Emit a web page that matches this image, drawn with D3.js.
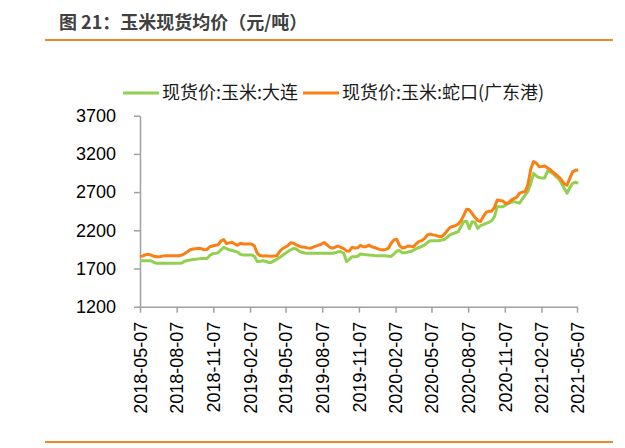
<!DOCTYPE html>
<html>
<head>
<meta charset="utf-8">
<script src="https://cdn.jsdelivr.net/npm/d3@7"></script>
<style>
  body { margin: 0; background: #fff; }
  svg { display: block; font-family: "Liberation Sans", Arial, sans-serif; }
</style>
</head>
<body>
<svg></svg>
<script>
let width = 625
let height = 448

// weekly series, starting 2018-05-07
let startDate = '2018-05-07'

let dalian = [
  1802, 1802, 1802, 1802, 1800, 1780, 1768, 1768, 1768, 1768,
  1768, 1768, 1768, 1768, 1768, 1772, 1795, 1805, 1812, 1818,
  1822, 1826, 1832, 1830, 1830, 1870, 1892, 1898, 1907, 1945,
  1977, 1960, 1945, 1935, 1925, 1915, 1885, 1877, 1877, 1877,
  1877, 1860, 1790, 1795, 1802, 1795, 1780, 1778, 1800, 1820,
  1845, 1870, 1895, 1922, 1945, 1962, 1955, 1928, 1912, 1902,
  1899, 1899, 1899, 1899, 1899, 1899, 1900, 1900, 1900, 1900,
  1905, 1920, 1920, 1900, 1792, 1820, 1855, 1855, 1860, 1890,
  1885, 1880, 1877, 1875, 1870, 1866, 1866, 1866, 1866, 1860,
  1858, 1890, 1930, 1935, 1905, 1905, 1915, 1922, 1940, 1962,
  1975, 1990, 2010, 2040, 2064, 2064, 2064, 2064, 2072, 2080,
  2105, 2140, 2155, 2168, 2182, 2250, 2313, 2318, 2220, 2313,
  2305, 2225, 2260, 2275, 2290, 2305, 2325, 2380, 2509, 2509,
  2509, 2530, 2553, 2565, 2575, 2565, 2555, 2610, 2662, 2710,
  2810, 2946, 2910, 2890, 2883, 2885, 2975, 2965, 2940, 2905,
  2875, 2820, 2750, 2685, 2760, 2815, 2830, 2815
]

let shekou = [
  1855, 1865, 1880, 1886, 1875, 1860, 1855, 1855, 1862, 1868,
  1868, 1868, 1868, 1868, 1868, 1875, 1895, 1920, 1945, 1955,
  1960, 1964, 1960, 1945, 1950, 1985, 1995, 2005, 2010, 2060,
  2080, 2025, 2035, 2043, 2020, 2004, 2030, 2021, 2021, 2021,
  2021, 1995, 1900, 1870, 1864, 1866, 1862, 1860, 1864, 1866,
  1920, 1958, 1978, 2000, 2038, 2030, 2010, 1993, 1980, 1977,
  1970, 1964, 1980, 1993, 2005, 2020, 2040, 2010, 1980, 1966,
  1980, 1995, 1975, 1960, 1930, 1930, 1977, 1968, 1970, 2004,
  1985, 1985, 2008, 1985, 1975, 1960, 1950, 1942, 1950, 1964,
  2030, 2075, 2082, 2000, 1968, 1975, 1995, 1990, 1986, 2025,
  2055, 2065, 2095, 2140, 2150, 2140, 2135, 2120, 2120, 2145,
  2190, 2235, 2250, 2262, 2280, 2325, 2395, 2475, 2468, 2420,
  2370, 2330, 2315, 2380, 2435, 2450, 2450, 2500, 2597, 2590,
  2585, 2550, 2560, 2595, 2615, 2635, 2685, 2700, 2706, 2800,
  3000, 3100, 3080, 3033, 3035, 3041, 3015, 2995, 2960, 2930,
  2900, 2860, 2810, 2790, 2880, 2965, 2985, 2989
]

let xTickLabels = [
  '2018-05-07', '2018-08-07', '2018-11-07', '2019-02-07', '2019-05-07',
  '2019-08-07', '2019-11-07', '2020-02-07', '2020-05-07', '2020-08-07',
  '2020-11-07', '2021-02-07', '2021-05-07'
]

let yTicks = [1200, 1700, 2200, 2700, 3200, 3700]

let seriesNames = ['现货价:玉米:大连', '现货价:玉米:蛇口(广东港)']
let seriesColors = ['#92d050', '#fa7f14']

let parseDate = d3.timeParse('%Y-%m-%d')
let start = parseDate(startDate)
let dates = dalian.map((d, i) => d3.timeDay.offset(start, i * 7))

let xScale = d3.scaleTime()
                .domain([parseDate(xTickLabels[0]), parseDate(xTickLabels[xTickLabels.length - 1])])
                .range([140, 577])

let yScale = d3.scaleLinear()
                .domain([1200, 3700])
                .range([306.7, 115.7])

let svg = d3.select('svg')
    .attr('width', width)
    .attr('height', height)

// title and rules
svg.append('text')
    .attr('x', 59)
    .attr('y', 29)
    .style('font-family', '"Noto Sans CJK SC", sans-serif')
    .style('font-size', '18px')
    .style('font-weight', 'bold')
    .attr('fill', '#404040')
    .text('图 21：玉米现货均价（元/吨）')

svg.selectAll('.rule')
  .data([40, 442])
  .enter()
  .append('line')
    .attr('x1', 45)
    .attr('x2', 613)
    .attr('y1', d => d)
    .attr('y2', d => d)
    .attr('stroke', '#f0862a')
    .attr('stroke-width', 2.2)

// axes
let yAxis = d3.axisLeft(yScale)
              .tickValues(yTicks)
              .tickFormat(d3.format('d'))
              .tickSize(6)
              .tickPadding(18)
              .tickSizeOuter(0)

let xAxis = d3.axisBottom(xScale)
              .tickValues(xTickLabels.map(parseDate))
              .tickFormat(d3.timeFormat('%Y-%m-%d'))
              .tickSize(6)
              .tickSizeOuter(0)

let gy = svg.append('g')
    .attr('transform', 'translate(140, 0)')
    .call(yAxis)

let gx = svg.append('g')
    .attr('transform', 'translate(0, 306.7)')
    .call(xAxis)

svg.selectAll('.domain, .tick line')
    .attr('stroke', '#a0a0a0')
    .attr('stroke-width', 1.5)

gy.selectAll('text')
    .style('font-size', '18px')
    .attr('fill', '#000')

gx.selectAll('text')
    .style('font-size', '18px')
    .attr('fill', '#000')
    .attr('transform', 'rotate(-90)')
    .attr('x', -15)
    .attr('y', 0)
    .attr('dy', '0.35em')
    .style('text-anchor', 'end')

// lines
let line = d3.line()
              .x((d, i) => xScale(dates[i]))
              .y(d => yScale(d))

svg.selectAll('.series')
  .data([dalian, shekou])
  .enter()
  .append('path')
    .attr('d', line)
    .attr('fill', 'none')
    .attr('stroke', (d, i) => seriesColors[i])
    .attr('stroke-width', 3)
    .attr('stroke-linejoin', 'round')

// legend
let legendX = [123, 303]

let legend = svg.selectAll('.legend')
  .data(seriesNames)
  .enter()
  .append('g')
    .attr('transform', (d, i) => `translate(${legendX[i]}, 93)`)

legend.append('line')
    .attr('x1', 0)
    .attr('x2', 36)
    .attr('stroke', (d, i) => seriesColors[i])
    .attr('stroke-width', 3)

legend.append('text')
    .attr('x', 39)
    .attr('dy', '0.35em')
    .style('font-family', '"Noto Sans CJK SC", sans-serif')
    .style('font-size', '18px')
    .attr('fill', '#1a1a1a')
    .text(d => d)
</script>
</body>
</html>
